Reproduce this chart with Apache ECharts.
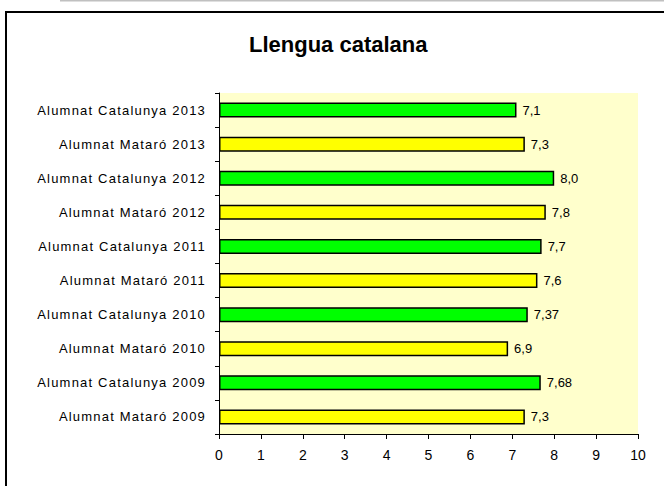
<!DOCTYPE html>
<html><head><meta charset="utf-8">
<script src="https://cdn.jsdelivr.net/npm/echarts@6/dist/echarts.min.js"></script>
<style>html,body{margin:0;padding:0;background:#fff;}#c{width:664px;height:486px;}
#c text[style*="Arimo"]{letter-spacing:1.2px;}
</style>
</head><body><div id="c"></div>
<script>
const categories = ["Alumnat Mataró 2009","Alumnat Catalunya 2009","Alumnat Mataró 2010","Alumnat Catalunya 2010","Alumnat Mataró 2011","Alumnat Catalunya 2011","Alumnat Mataró 2012","Alumnat Catalunya 2012","Alumnat Mataró 2013","Alumnat Catalunya 2013"];
const values = [7.3, 7.68, 6.9, 7.37, 7.6, 7.7, 7.8, 8.0, 7.3, 7.1];
const valueLabels = ["7,3","7,68","6,9","7,37","7,6","7,7","7,8","8,0","7,3","7,1"];
const barColors = ["#FFFF00","#00FF00","#FFFF00","#00FF00","#FFFF00","#00FF00","#FFFF00","#00FF00","#FFFF00","#00FF00"];

const chart = echarts.init(document.getElementById('c'), null, {renderer:'svg'});
const font = 'Liberation Sans, Arial, sans-serif';
chart.setOption({
  animation:false,
  title:{text:'Llengua catalana',left:244,top:28,textStyle:{fontFamily:font,fontSize:22,fontWeight:'bold',color:'#000'}},
  graphic:[
    {type:'line',shape:{x1:60,y1:0.5,x2:664,y2:0.5},style:{stroke:'#c0c0c0',lineWidth:2}},
    {type:'rect',shape:{x:6,y:12,width:700,height:520},style:{fill:null,stroke:'#000',lineWidth:2}}
  ],
  grid:{left:219,right:26,top:93,bottom:52,backgroundColor:'#FFFFCC',show:true,borderWidth:0},
  xAxis:{type:'value',min:0,max:10,interval:1,
    axisLine:{show:true,lineStyle:{color:'#000',width:1}},
    axisTick:{show:true,length:5,lineStyle:{color:'#000'}},
    axisLabel:{color:'#000',fontFamily:font,fontSize:14,margin:14},
    splitLine:{show:false}},
  yAxis:{type:'category',data:categories,
    axisLine:{show:true,lineStyle:{color:'#000',width:1}},
    axisTick:{show:true,length:4,lineStyle:{color:'#000'}},
    axisLabel:{color:'#000',fontFamily:'Liberation Sans, Arimo, sans-serif',fontSize:13,margin:13}},
  series:[{type:'bar',
    data:values.map((v,i)=>({value:v,itemStyle:{color:barColors[i]}})),
    barWidth:15,
    itemStyle:{borderColor:'#000',borderWidth:1.5},
    label:{show:true,position:'right',distance:6,color:'#000',fontFamily:font,fontSize:13,
      formatter:p=>valueLabels[p.dataIndex]}}]
});
</script></body></html>
